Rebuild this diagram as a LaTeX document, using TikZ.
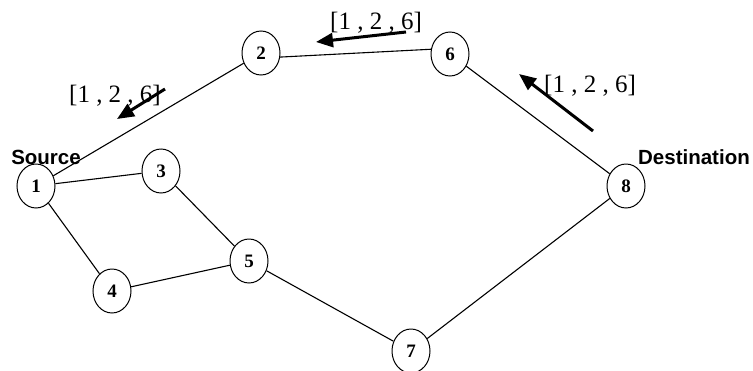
\documentclass[tikz,border=0pt]{standalone}
\usepackage{fontspec}
\setmainfont{Liberation Serif}
\newfontfamily\labsans{Liberation Sans}
\usetikzlibrary{shapes.geometric,arrows.meta}
\begin{document}
\begin{tikzpicture}[x=1pt,y=-1pt,
  vertex/.style={ellipse,draw,line width=1pt,minimum width=38pt,minimum height=44pt,inner sep=0pt,font=\fontsize{19}{19}\selectfont\bfseries},
  link/.style={line width=1.1pt},
  msg/.style={font=\fontsize{25}{25}\selectfont,inner sep=0pt},
  tag/.style={font=\labsans\fontsize{20.5}{20}\selectfont\bfseries,inner sep=0pt},
  flow/.style={line width=3pt,-{Triangle[length=17pt,width=14pt]}}]
\useasboundingbox (0,0) rectangle (753,370);
\node[vertex] (n1) at (36,186) {1};
\node[vertex] (n2) at (261,53) {2};
\node[vertex] (n3) at (161,171) {3};
\node[vertex] (n4) at (112,291) {4};
\node[vertex] (n5) at (249,261) {5};
\node[vertex] (n6) at (450,54) {6};
\node[vertex] (n7) at (411,351) {7};
\node[vertex] (n8) at (626,186) {8};
\draw[link] (n1) -- (n2);
\draw[link] (n1) -- (n3);
\draw[link] (n1) -- (n4);
\draw[link] (n3) -- (n5);
\draw[link] (n4) -- (n5);
\draw[link] (n5) -- (n7);
\draw[link] (n7) -- (n8);
\draw[link] (n8) -- (n6);
\draw[link] (n2.-12) -- (n6.166);
\node[tag] (src) at (46,157) {Source};
\node[tag] (dst) at (694,157) {Destination};
\node[msg] (m1) at (115,96) {[1 , 2 , 6]};
\node[msg] (m2) at (376,23) {[1 , 2 , 6]};
\node[msg] (m3) at (590,86) {[1 , 2 , 6]};
\coordinate (a1s) at (165,89);
\coordinate (a1e) at (117,119);
\coordinate (a2s) at (406,32);
\coordinate (a2e) at (316,42);
\coordinate (a3s) at (593,131);
\coordinate (a3e) at (519,74);
\draw[flow] (a1s) -- (a1e);
\draw[flow] (a2s) -- (a2e);
\draw[flow] (a3s) -- (a3e);
\end{tikzpicture}
\end{document}
